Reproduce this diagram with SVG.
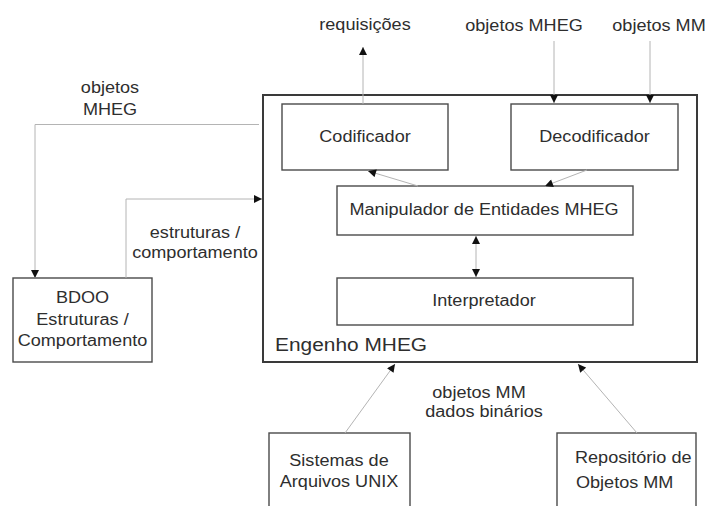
<svg xmlns="http://www.w3.org/2000/svg" width="709" height="506" viewBox="0 0 709 506">
  <style>
    .box { fill: none; stroke: #4a4a4a; stroke-width: 1.4; }
    .frame { fill: none; stroke: #3a3a3a; stroke-width: 2; }
    .wire { fill: none; stroke: #b4b4b4; stroke-width: 1; }
    text { font-family: "Liberation Sans", Arial, Helvetica, sans-serif; font-size: 16px; fill: #2e2e2e; }
    .mid { text-anchor: middle; }
    .big { font-size: 18.5px; }
  </style>
  <defs>
    <marker id="tip" viewBox="0 0 10 10" refX="10" refY="5" markerWidth="9" markerHeight="8" markerUnits="userSpaceOnUse" orient="auto-start-reverse">
      <path d="M0,0 L10,5 L0,10 z" fill="#111"/>
    </marker>
  </defs>
  <rect width="709" height="506" fill="#fff"/>

  <!-- MHEG engine frame -->
  <g id="engenho">
    <rect class="frame" x="263" y="95" width="434" height="267"/>
    <text class="big" transform="translate(275 351) scale(1.13 1)">Engenho MHEG</text>
  </g>

  <g id="codificador">
    <rect class="box" x="282" y="104" width="166" height="66"/>
    <text class="mid" transform="translate(365 142) scale(1.13 1)">Codificador</text>
  </g>

  <g id="decodificador">
    <rect class="box" x="511" y="104" width="167" height="66"/>
    <text class="mid" transform="translate(594.5 142) scale(1.13 1)">Decodificador</text>
  </g>

  <g id="manipulador">
    <rect class="box" x="337" y="186" width="296" height="49"/>
    <text class="mid" transform="translate(484 215) scale(1.13 1)">Manipulador de Entidades MHEG</text>
  </g>

  <g id="interpretador">
    <rect class="box" x="337" y="278" width="296" height="47"/>
    <text class="mid" transform="translate(484 306) scale(1.13 1)">Interpretador</text>
  </g>

  <g id="bdoo">
    <rect class="box" x="13" y="278" width="139" height="84"/>
    <text class="mid" transform="translate(82.5 303) scale(1.13 1)">BDOO</text>
    <text class="mid" transform="translate(82.5 325) scale(1.13 1)">Estruturas /</text>
    <text class="mid" transform="translate(82.5 346) scale(1.13 1)">Comportamento</text>
  </g>

  <g id="sistemas">
    <rect class="box" x="269" y="433" width="141" height="90"/>
    <text class="mid" transform="translate(339 466) scale(1.13 1)">Sistemas de</text>
    <text class="mid" transform="translate(339 487) scale(1.13 1)">Arquivos UNIX</text>
  </g>

  <g id="repositorio">
    <rect class="box" x="557" y="433" width="139" height="90"/>
    <text transform="translate(575 463) scale(1.13 1)">Repositório de</text>
    <text transform="translate(576 488) scale(1.13 1)">Objetos MM</text>
  </g>

  <!-- connectors -->
  <g id="connectors">
    <line class="wire" x1="363" y1="104" x2="363" y2="47" marker-end="url(#tip)"/>
    <line class="wire" x1="554" y1="41" x2="554" y2="103" marker-end="url(#tip)"/>
    <line class="wire" x1="650" y1="41" x2="650" y2="103" marker-end="url(#tip)"/>
    <polyline class="wire" points="259,124.5 35,124.5 35,278" marker-end="url(#tip)"/>
    <polyline class="wire" points="126,278 126,199 262,199" marker-end="url(#tip)"/>
    <line class="wire" x1="418" y1="186" x2="368" y2="171" marker-end="url(#tip)"/>
    <line class="wire" x1="587" y1="170" x2="545" y2="186" marker-end="url(#tip)"/>
    <line class="wire" x1="476" y1="236" x2="476" y2="277" marker-start="url(#tip)" marker-end="url(#tip)"/>
    <line class="wire" x1="345" y1="433" x2="395" y2="364" marker-end="url(#tip)"/>
    <line class="wire" x1="637" y1="433" x2="578" y2="364" marker-end="url(#tip)"/>
  </g>

  <!-- connector labels -->
  <g id="labels">
    <text class="mid" transform="translate(365 30) scale(1.13 1)">requisições</text>
    <text class="mid" transform="translate(524 31) scale(1.13 1)">objetos MHEG</text>
    <text class="mid" transform="translate(659 31) scale(1.13 1)">objetos MM</text>
    <text class="mid" transform="translate(110 93) scale(1.13 1)">objetos</text>
    <text class="mid" transform="translate(110 115) scale(1.13 1)">MHEG</text>
    <text class="mid" transform="translate(195 238) scale(1.13 1)">estruturas /</text>
    <text class="mid" transform="translate(195 258) scale(1.13 1)">comportamento</text>
    <text class="mid" transform="translate(479 398) scale(1.13 1)">objetos MM</text>
    <text class="mid" transform="translate(484 417) scale(1.13 1)">dados binários</text>
  </g>
</svg>
